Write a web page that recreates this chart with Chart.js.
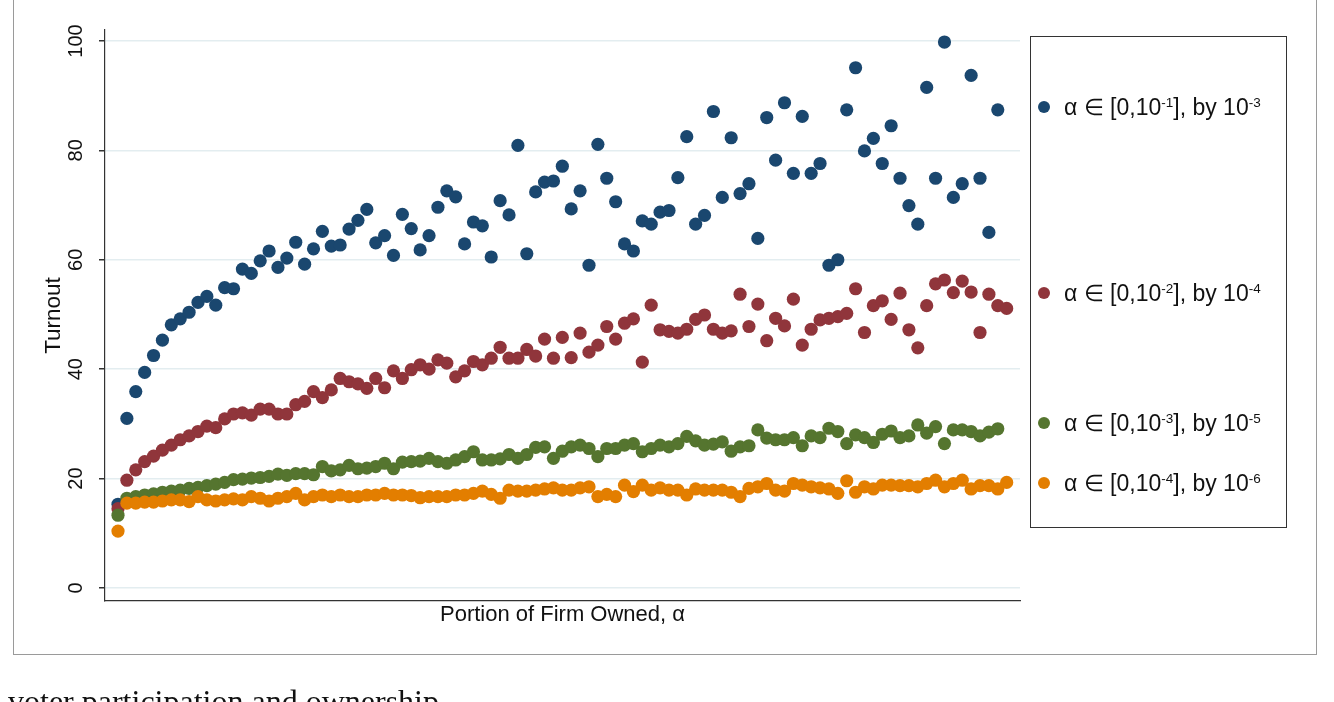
<!DOCTYPE html>
<html>
<head>
<meta charset="utf-8">
<script src="https://cdn.jsdelivr.net/npm/chart.js@4/dist/chart.umd.min.js"></script>
<style>
html,body{margin:0;padding:0;background:#fff;width:1334px;height:702px;overflow:hidden;font-family:"Liberation Sans",Arial,sans-serif;}
#frame{position:absolute;left:13px;top:-2px;width:1304px;height:657px;border:1px solid #9a9a9a;box-sizing:border-box;}
#c{position:absolute;left:0;top:0;}
#legend{position:absolute;left:1030px;top:36px;width:257px;height:492px;border:1px solid #333;box-sizing:border-box;}
.item{position:absolute;left:0;height:26px;font-size:23px;color:#111;white-space:nowrap;}
.dot{position:absolute;left:7px;top:7px;width:12px;height:12px;border-radius:50%;}
.txt{position:absolute;left:33px;top:0;line-height:26px;}
.txt sup{font-size:13.5px;vertical-align:8px;line-height:0;}
#caption{position:absolute;left:8px;top:685px;line-height:32px;font-family:"Liberation Serif",serif;font-size:32px;color:#111;white-space:nowrap;}
</style>
</head>
<body>
<div id="frame"></div>
<canvas id="c" width="1334" height="702"></canvas>
<div id="legend"></div>
<div id="caption">voter participation and ownership</div>
<script>
// ---- data ----
const yTicks = [0, 20, 40, 60, 80, 100];

const seriesLabels = [
  'α ∈ [0,10<sup>-1</sup>], by 10<sup>-3</sup>',
  'α ∈ [0,10<sup>-2</sup>], by 10<sup>-4</sup>',
  'α ∈ [0,10<sup>-3</sup>], by 10<sup>-5</sup>',
  'α ∈ [0,10<sup>-4</sup>], by 10<sup>-6</sup>'
];
const seriesColors = ['#1a476f', '#90353b', '#55752f', '#e37e00'];

const blueTurnout = [
  15.3, 31, 35.9, 39.4, 42.5, 45.3, 48.1, 49.2, 50.4, 52.2,
  53.3, 51.7, 54.9, 54.7, 58.3, 57.5, 59.8, 61.6, 58.6, 60.3,
  63.2, 59.2, 62, 65.2, 62.5, 62.7, 65.6, 67.2, 69.2, 63.1,
  64.4, 60.8, 68.3, 65.7, 61.8, 64.4, 69.6, 72.6, 71.5, 62.9,
  66.9, 66.2, 60.5, 70.8, 68.2, 80.9, 61.1, 72.4, 74.2, 74.4,
  77.1, 69.3, 72.6, 59, 81.1, 74.9, 70.6, 62.9, 61.6, 67.1,
  66.5, 68.7, 69, 75, 82.5, 66.5, 68.1, 87.1, 71.4, 82.3,
  72.1, 73.9, 63.9, 86.0, 78.2, 88.7, 75.8, 86.2, 75.8, 77.6,
  59, 60, 87.4, 95.1, 79.9, 82.2, 77.6, 84.5, 74.9, 69.9,
  66.5, 91.5, 74.9, 99.8, 71.4, 73.9, 93.7, 74.9, 65, 87.4
];

const redTurnout = [
  14.5, 19.7, 21.6, 23.1, 24.1, 25.2, 26.1, 27.1, 27.8, 28.6,
  29.6, 29.3, 30.9, 31.8, 32, 31.6, 32.7, 32.7, 31.8, 31.8,
  33.5, 34.1, 35.9, 34.8,
  36.2, 38.3, 37.7, 37.3, 36.5, 38.3, 36.6, 39.7, 38.3, 39.9,
  40.8, 40, 41.7, 41.1, 38.6, 39.7, 41.4, 40.8, 42, 44,
  42, 42, 43.6, 42.4,
  45.5, 42, 45.8, 42.1, 46.6, 43.1, 44.4, 47.8, 45.5, 48.4,
  49.2, 41.3, 51.7, 47.2, 46.9, 46.6, 47.3, 49.1, 49.9, 47.3,
  46.6, 47, 53.7, 47.8, 51.9, 45.2,
  49.3, 47.9, 52.8, 44.4, 47.3, 49, 49.3, 49.6, 50.2, 54.7,
  46.7, 51.6, 52.5, 49.1, 53.9, 47.2, 43.9, 51.6, 55.6, 56.3,
  54, 56.1, 54.1, 46.7, 53.7, 51.6, 51.1
];

const greenTurnout = [
  13.3, 16.4, 16.7, 17.0, 17.2, 17.5, 17.7, 17.9, 18.2, 18.4,
  18.7, 19.0, 19.3, 19.8, 19.9, 20.1, 20.2, 20.4, 20.8, 20.6,
  20.9, 20.9, 20.7, 22.2, 21.4, 21.6, 22.4, 21.8, 21.9, 22.2,
  22.8, 21.8, 23.0, 23.1,
  23.2, 23.7, 23.1, 22.8, 23.4, 24.0, 24.9, 23.4, 23.4, 23.6,
  24.4, 23.7, 24.4, 25.7, 25.8, 23.7, 25.0, 25.8, 26.1, 25.5,
  24.0, 25.5, 25.5, 26.1, 26.4, 24.9, 25.5, 26.1, 25.8, 26.4,
  27.7, 26.9, 26.1,
  26.3, 26.7, 25.0, 25.8, 26.0, 28.9, 27.4, 27.1, 27.1, 27.5,
  26.0, 27.8, 27.5, 29.2, 28.6, 26.4, 28.0, 27.5, 26.6, 28.1,
  28.7, 27.5, 27.8, 29.8, 28.3, 29.5, 26.4, 28.9, 28.9, 28.6,
  27.8, 28.5, 29.1
];

const orangeTurnout = [
  10.4, 15.5, 15.5, 15.7, 15.7, 15.9, 16.1, 16.1, 15.8, 16.7,
  16.1, 15.9, 16.1, 16.3, 16.1, 16.7, 16.4, 15.9, 16.4, 16.7,
  17.3, 16.1, 16.7, 17.0, 16.7, 17.0, 16.7, 16.7, 17.0, 17.0,
  17.3, 17.0, 17.0, 16.9,
  16.5, 16.7, 16.7, 16.7, 17.0, 17.0, 17.3, 17.7, 17.1, 16.4,
  17.9, 17.7, 17.7, 17.9, 18.1, 18.3, 17.9, 17.9, 18.3, 18.5,
  16.7, 17.1, 16.7, 18.8, 17.6, 18.8, 17.9, 18.3, 17.9, 17.9,
  17.0, 18.1, 17.9,
  17.9, 17.9, 17.5, 16.7, 18.2, 18.5, 19.1, 17.9, 17.7, 19.1,
  18.8, 18.5, 18.3, 18.1, 17.3, 19.6, 17.5, 18.5, 18.1, 18.8,
  18.8, 18.7, 18.7, 18.5, 19.1, 19.7, 18.5, 19.1, 19.7, 18.1,
  18.7, 18.7, 18.1, 19.3
];

const allSeries = [blueTurnout, redTurnout, greenTurnout, orangeTurnout];

// ---- legend (HTML, real text) ----
const legendCenters = [70, 256, 386, 446];
const legendEl = document.getElementById('legend');
seriesLabels.forEach((lab, k) => {
  const it = document.createElement('div');
  it.className = 'item';
  it.style.top = (legendCenters[k] - 13) + 'px';
  it.innerHTML = '<span class="dot" style="background:' + seriesColors[k] + '"></span><span class="txt">' + lab + '</span>';
  legendEl.appendChild(it);
});

// ---- chart ----
const FONT = '"Liberation Sans", Arial, sans-serif';
const toPoints = arr => arr.map((v, i) => ({ x: i, y: v }));

new Chart(document.getElementById('c'), {
  type: 'scatter',
  data: {
    datasets: allSeries.map((s, k) => ({
      data: toPoints(s),
      backgroundColor: seriesColors[k],
      borderColor: seriesColors[k],
      borderWidth: 0,
      pointRadius: 6.6,
      pointHoverRadius: 6.6,
      order: 4 - k
    }))
  },
  options: {
    responsive: false,
    animation: false,
    events: [],
    layout: { padding: { left: 40, top: 30, right: 314, bottom: 71 } },
    plugins: { legend: { display: false }, tooltip: { enabled: false } },
    scales: {
      x: {
        type: 'linear',
        min: -1.463,
        max: 101.5,
        ticks: { display: false },
        grid: { display: false, drawTicks: false },
        border: { display: true, color: '#333', width: 1.2 },
        title: {
          display: true,
          text: 'Portion of Firm Owned, α',
          color: '#111',
          font: { family: FONT, size: 22 },
          padding: { top: 0, bottom: 3 }
        },
        afterFit(s) { s.height = 30; }
      },
      y: {
        min: -2.38,
        max: 102,
        afterBuildTicks(s) { s.ticks = yTicks.map(v => ({ value: v })); },
        ticks: {
          minRotation: 90,
          maxRotation: 90,
          crossAlign: 'center',
          padding: 6,
          color: '#111',
          font: { family: FONT, size: 20 }
        },
        grid: {
          color: '#e3edf0',
          lineWidth: 1.5,
          tickColor: '#333',
          tickLength: 6,
          drawTicks: true
        },
        border: { display: true, color: '#333', width: 1.2 },
        title: {
          display: true,
          text: 'Turnout',
          color: '#111',
          font: { family: FONT, size: 22.5 },
          padding: { top: 0, bottom: 0 }
        },
        afterFit(s) { s.width = 65; }
      }
    }
  }
});
</script>
</body>
</html>
